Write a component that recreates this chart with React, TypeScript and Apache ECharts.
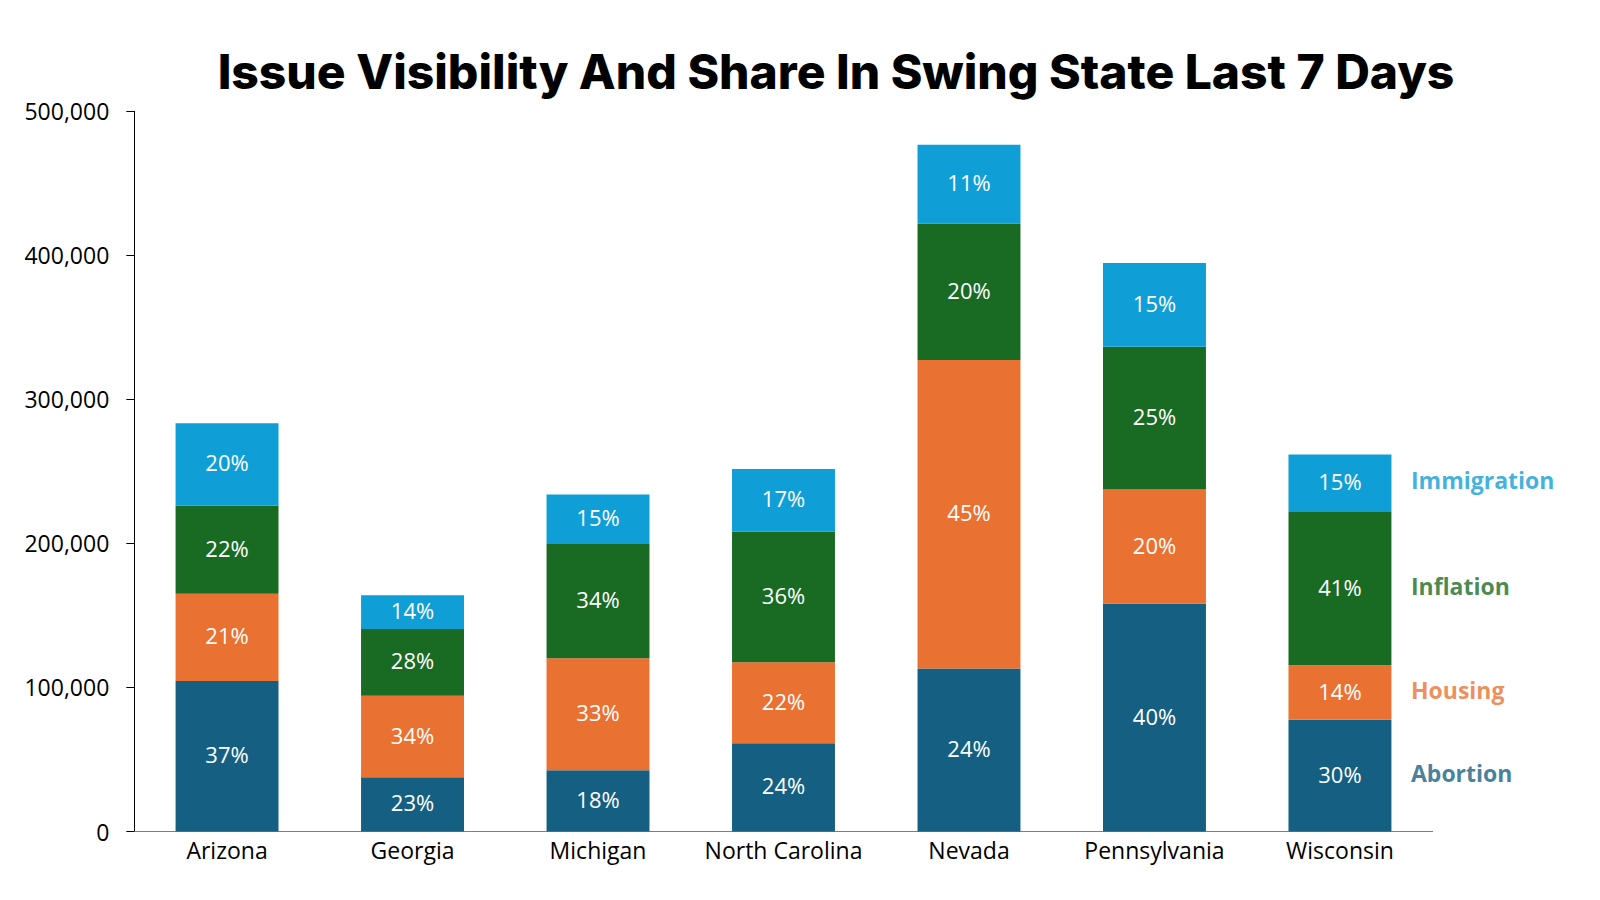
import React, { useEffect, useRef } from "react";
import * as echarts from "echarts";

const states = ["Arizona", "Georgia", "Michigan", "North Carolina", "Nevada", "Pennsylvania", "Wisconsin"];
const issues = ["Abortion", "Housing", "Inflation", "Immigration"];
const colors = ["#156082", "#E97132", "#196B24", "#0F9ED5"];

const abortion = [104500, 37600, 42500, 61250, 113100, 158200, 77600];
const housing = [60600, 56700, 77800, 56250, 214300, 79200, 37800];
const inflation = [61100, 46300, 79800, 90700, 94700, 99100, 106500];
const immigration = [57200, 23400, 33800, 43500, 54600, 58100, 39800];

const abortionShare = [37, 23, 18, 24, 24, 40, 30];
const housingShare = [21, 34, 33, 22, 45, 20, 14];
const inflationShare = [22, 28, 34, 36, 20, 25, 41];
const immigrationShare = [20, 14, 15, 17, 11, 15, 15];

const yTicks = [0, 100000, 200000, 300000, 400000, 500000];

const values = [abortion, housing, inflation, immigration];
const shares = [abortionShare, housingShare, inflationShare, immigrationShare];

export default function App() {
  const ref = useRef<HTMLDivElement>(null);
  useEffect(() => {
    if (!ref.current) return;
    const chart = echarts.init(ref.current, null, { renderer: "svg" });
    const font = "'Open Sans', sans-serif";
    const last = states.length - 1;
    const mids: number[] = [];
    let acc = 0;
    values.forEach((v) => {
      mids.push(acc + v[last] / 2);
      acc += v[last];
    });

    const barSeries = issues.map((name, i) => ({
      type: "bar",
      name,
      stack: "total",
      barWidth: "55.5%",
      itemStyle: { color: colors[i] },
      label: {
        show: true,
        position: "inside",
        offset: [0, -2],
        color: "#ffffff",
        fontFamily: font,
        fontSize: 22,
        formatter: (p: any) => shares[i][p.dataIndex] + "%",
      },
      data: values[i],
    }));

    const nameSeries = issues.map((name, i) => ({
      type: "scatter",
      name: name + "-label",
      symbolSize: 0,
      silent: true,
      label: {
        show: true,
        position: "right",
        distance: 71,
        offset: [0, -3],
        color: colors[i],
        fontFamily: font,
        fontWeight: "bold",
        fontSize: 23,
        formatter: name,
      },
      data: [[states[last], mids[i]]],
    }));

    chart.setOption({
      animation: false,
      backgroundColor: "#ffffff",
      title: {
        text: "Issue Visibility And Share In Swing State Last 7 Days",
        left: 831,
        top: 42,
        textAlign: "center",
        textStyle: {
          fontFamily: "Inter, sans-serif",
          fontWeight: 800,
          fontSize: 48,
          color: "#000000",
        },
      },
      grid: { left: 134.3, right: 167.3, top: 111.3, bottom: 68.5, containLabel: false },
      xAxis: {
        type: "category",
        data: states,
        axisLine: { show: true, lineStyle: { color: "#7f7f7f", width: 1 } },
        axisTick: { show: false },
        axisLabel: { color: "#000000", fontFamily: font, fontSize: 23, margin: 7, interval: 0 },
      },
      yAxis: {
        type: "value",
        min: yTicks[0],
        max: yTicks[yTicks.length - 1],
        interval: yTicks[1] - yTicks[0],
        splitLine: { show: false },
        axisLine: { show: true, lineStyle: { color: "#000000", width: 1 } },
        axisTick: { show: true, length: 8, lineStyle: { color: "#000000" } },
        axisLabel: {
          color: "#000000",
          fontFamily: font,
          fontSize: 23,
          margin: 25,
          formatter: (v: number) => v.toLocaleString("en-US"),
        },
      },
      series: [...barSeries, ...nameSeries],
    });
    return () => chart.dispose();
  }, []);
  return (
    <div
      ref={ref}
      style={{ position: "fixed", left: 0, top: 0, width: "1600px", height: "900px", background: "#fff" }}
    />
  );
}
